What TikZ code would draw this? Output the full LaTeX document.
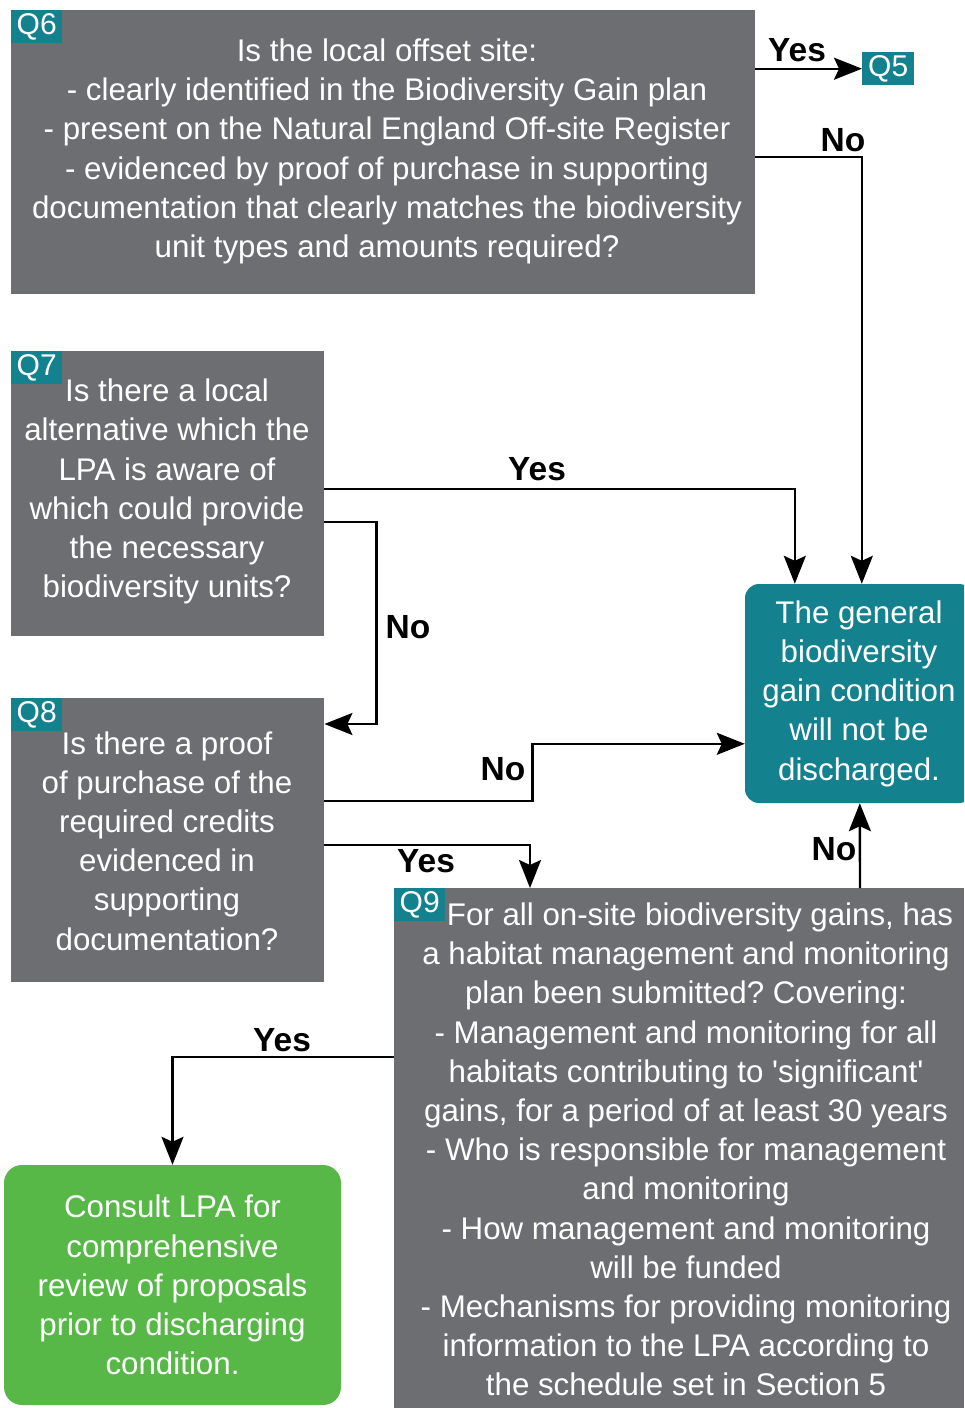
\documentclass[tikz,border=0pt]{standalone}
\usepackage{fontspec}
\setmainfont{Liberation Sans}
% same face without the TeX quote mapping, for straight apostrophes
\newfontfamily\rawfont{Liberation Sans}
\usetikzlibrary{arrows.meta,calc}
\definecolor{boxgrey}{HTML}{6D6E71}
\definecolor{tagteal}{HTML}{14818F}
\definecolor{okgreen}{HTML}{57B848}
\newcommand{\sq}{{\rawfont'}}
\frenchspacing
\begin{document}
\begin{tikzpicture}[x=1pt,y=-1pt,
  qbox/.style={fill=boxgrey, inner sep=0pt, anchor=north west},
  qtag/.style={fill=tagteal, text=white, inner sep=0pt, minimum width=51pt,
    minimum height=33pt, anchor=north west, font=\fontsize{30}{32}\selectfont},
  body/.style={text=white, align=center, inner sep=0pt,
    font=\fontsize{31.3}{39.2}\selectfont},
  flow/.style={line width=2.4pt, -{Stealth[length=28pt,width=22pt,inset=5pt]}},
  ans/.style={font=\bfseries\fontsize{33.5}{36}\selectfont, inner sep=0pt}
]
\useasboundingbox (0,0) rectangle (964,1408);
\fill[white] (0,0) rectangle (964,1408);
\clip (0,0) rectangle (964,1408);

% question boxes
\node[qbox, minimum width=744pt, minimum height=284pt] (q6) at (11,10) {};
\node[qbox, minimum width=313pt, minimum height=285pt] (q7) at (11,351) {};
\node[qbox, minimum width=313pt, minimum height=284pt] (q8) at (11,698) {};
\node[qbox, minimum width=570pt, minimum height=520pt] (q9) at (394,888) {};

% outcome boxes
\node[fill=tagteal, rounded corners=14pt, minimum width=228pt, minimum height=219pt,
  body] (res) at (859,693.5) {The general\\biodiversity\\gain condition\\will not be\\discharged.};
\node[fill=okgreen, rounded corners=18pt, minimum width=337pt, minimum height=240pt,
  body] (consult) at (172.5,1285) {Consult LPA for\\comprehensive\\review of proposals\\prior to discharging\\condition.};

% question texts
\node[body] (q6txt) at (387,151.5) {Is the local offset site:\\
- clearly identified in the Biodiversity Gain plan\\
- present on the Natural England Off-site Register\\
- evidenced by proof of purchase in supporting\\
documentation that clearly matches the biodiversity\\
unit types and amounts required?};
\node[body] (q7txt) at (167,491.5) {Is there a local\\alternative which the\\LPA is aware of\\which could provide\\the necessary\\biodiversity units?};
\node[body] (q8txt) at (167,841) {Is there a proof\\of purchase of the\\required credits\\evidenced in\\supporting\\documentation?};
\node[body] (q9txt) at (686,1149.5) {\hspace{28pt}For all on-site biodiversity gains, has\\
a habitat management and monitoring\\
plan been submitted? Covering:\\
- Management and monitoring for all\\
habitats contributing to \sq significant\sq\\
gains, for a period of at least 30 years\\
- Who is responsible for management\\
and monitoring\\
- How management and monitoring\\
will be funded\\
- Mechanisms for providing monitoring\\
information to the LPA according to\\
the schedule set in Section 5};

% question tags
\node[qtag] (q6tag) at (11,10) {Q6};
\node[qtag] (q7tag) at (11,351) {Q7};
\node[qtag] (q8tag) at (11,698) {Q8};
\node[qtag] (q9tag) at (394,888) {Q9};
\node[qtag, minimum width=52pt] (q5) at (862,52) {Q5};

% connectors
\draw[flow] (q6.east |- q5.west) -- (q5.west);
\draw[flow] ($(q6.north east)+(0,147)$) -| ($(res.north west)+(117,0)$);
\draw[flow] ($(q7.north east)+(0,138)$) -| ($(res.north west)+(50,0)$);
\draw[flow] ($(q7.north east)+(0,171)$) -- ++(52,0) |- ($(q8.north east)+(0,26)$);
\draw[flow] ($(q8.north east)+(0,103)$) -- ++(208,0) |- ($(res.north west)+(0,160)$);
\draw[flow] ($(q8.north east)+(0,147)$) -| ($(q9.north west)+(136,0)$);
\draw[flow] ($(q9.north west)+(466,0)$) -- ($(res.south west)+(115,0)$);
\draw[flow] ($(q9.north west)+(0,169)$) -| (consult.north);

% answer labels
\node[ans] (a6yes) at (797,50) {Yes};
\node[ans] (a6no) at (843,140) {No};
\node[ans] (a7yes) at (537,469) {Yes};
\node[ans] (a7no) at (408,627) {No};
\node[ans] (a8no) at (503,769) {No};
\node[ans] (a8yes) at (426,861) {Yes};
\node[ans] (a9no) at (834,849) {No};
\node[ans] (a9yes) at (282,1040) {Yes};
\end{tikzpicture}
\end{document}
